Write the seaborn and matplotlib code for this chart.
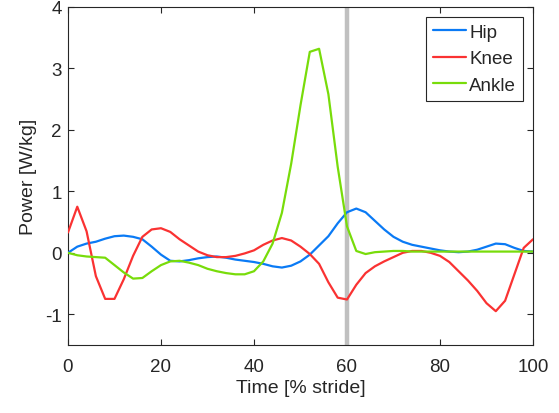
import numpy as np
import pandas as pd
import seaborn as sns
import matplotlib.pyplot as plt

# -----------------------------
# Data (2 % stride steps)
# -----------------------------
stride = list(range(0, 101, 2))

hip = [0.00, 0.10, 0.15, 0.18, 0.23, 0.27, 0.28, 0.26, 0.22, 0.10,
       -0.03, -0.13, -0.14, -0.12, -0.09, -0.07, -0.06, -0.08, -0.11, -0.13,
       -0.15, -0.18, -0.22, -0.24, -0.21, -0.14, -0.03, 0.12, 0.27, 0.48,
       0.66, 0.72, 0.66, 0.52, 0.38, 0.26, 0.18, 0.13, 0.10, 0.07,
       0.04, 0.02, 0.01, 0.02, 0.05, 0.10, 0.15, 0.14, 0.08, 0.03,
       0.02]

knee = [0.33, 0.75, 0.35, -0.38, -0.75, -0.75, -0.43, -0.05, 0.26, 0.38,
        0.40, 0.34, 0.22, 0.12, 0.02, -0.04, -0.07, -0.07, -0.05, -0.01,
        0.04, 0.13, 0.20, 0.24, 0.20, 0.10, -0.02, -0.18, -0.48, -0.73,
        -0.76, -0.52, -0.33, -0.22, -0.14, -0.07, 0.00, 0.03, 0.03, 0.00,
        -0.05, -0.15, -0.30, -0.45, -0.62, -0.82, -0.95, -0.78, -0.35, 0.08,
        0.22]

ankle = [0.00, -0.04, -0.06, -0.07, -0.08, -0.20, -0.32, -0.42, -0.41, -0.30,
         -0.20, -0.14, -0.13, -0.16, -0.20, -0.26, -0.30, -0.33, -0.35, -0.35,
         -0.30, -0.14, 0.15, 0.65, 1.45, 2.40, 3.27, 3.32, 2.58, 1.40,
         0.43, 0.03, -0.02, 0.01, 0.02, 0.03, 0.03, 0.02, 0.02, 0.02,
         0.02, 0.02, 0.02, 0.02, 0.02, 0.02, 0.02, 0.02, 0.02, 0.02,
         0.02]

toe_off = 60
joints = ["Hip", "Knee", "Ankle"]
colors = ["#0A7AF5", "#FA3232", "#78DC0A"]

df = pd.DataFrame({"Time": stride, "Hip": hip, "Knee": knee, "Ankle": ankle})
long_df = df.melt(id_vars="Time", var_name="Joint", value_name="Power")

# -----------------------------
# Plot
# -----------------------------
sns.set_style("ticks")
plt.rcParams["font.family"] = ["Liberation Sans", "DejaVu Sans"]
plt.rcParams["axes.unicode_minus"] = False

fig = plt.figure(figsize=(5.59, 4.14), dpi=100)
ax = fig.add_axes([0.1216, 0.1643, 0.8319, 0.8164])

ax.axvline(toe_off, color="#C0C0C0", linewidth=3.2, zorder=1)

sns.lineplot(
    data=long_df,
    x="Time",
    y="Power",
    hue="Joint",
    hue_order=joints,
    palette=colors,
    linewidth=1.6,
    ax=ax,
    zorder=3,
)

ax.set_xlim(0, 100)
ax.set_ylim(-1.5, 4)
ax.set_xticks([0, 20, 40, 60, 80, 100])
ax.set_yticks([-1, 0, 1, 2, 3, 4])
ax.set_xlabel("Time [% stride]", fontsize=14, color="#262626", labelpad=3)
ax.set_ylabel("Power [W/kg]", fontsize=14, color="#262626", labelpad=6)

ax.tick_params(direction="in", top=True, right=True, length=4,
               width=0.8, colors="#262626", labelsize=13.5)
ax.tick_params(axis="x", pad=9.5)
ax.tick_params(axis="y", pad=4.5)
for side in ax.spines.values():
    side.set_color("#262626")
    side.set_linewidth(0.8)

leg = ax.legend(loc="upper right", fontsize=13.5, frameon=True,
                fancybox=False, edgecolor="#262626", framealpha=1,
                handlelength=1.8, handletextpad=0.15, borderpad=0.35,
                labelspacing=0.5, borderaxespad=0.55)
leg.get_frame().set_linewidth(0.8)

fig.savefig("out.png", dpi=100)
